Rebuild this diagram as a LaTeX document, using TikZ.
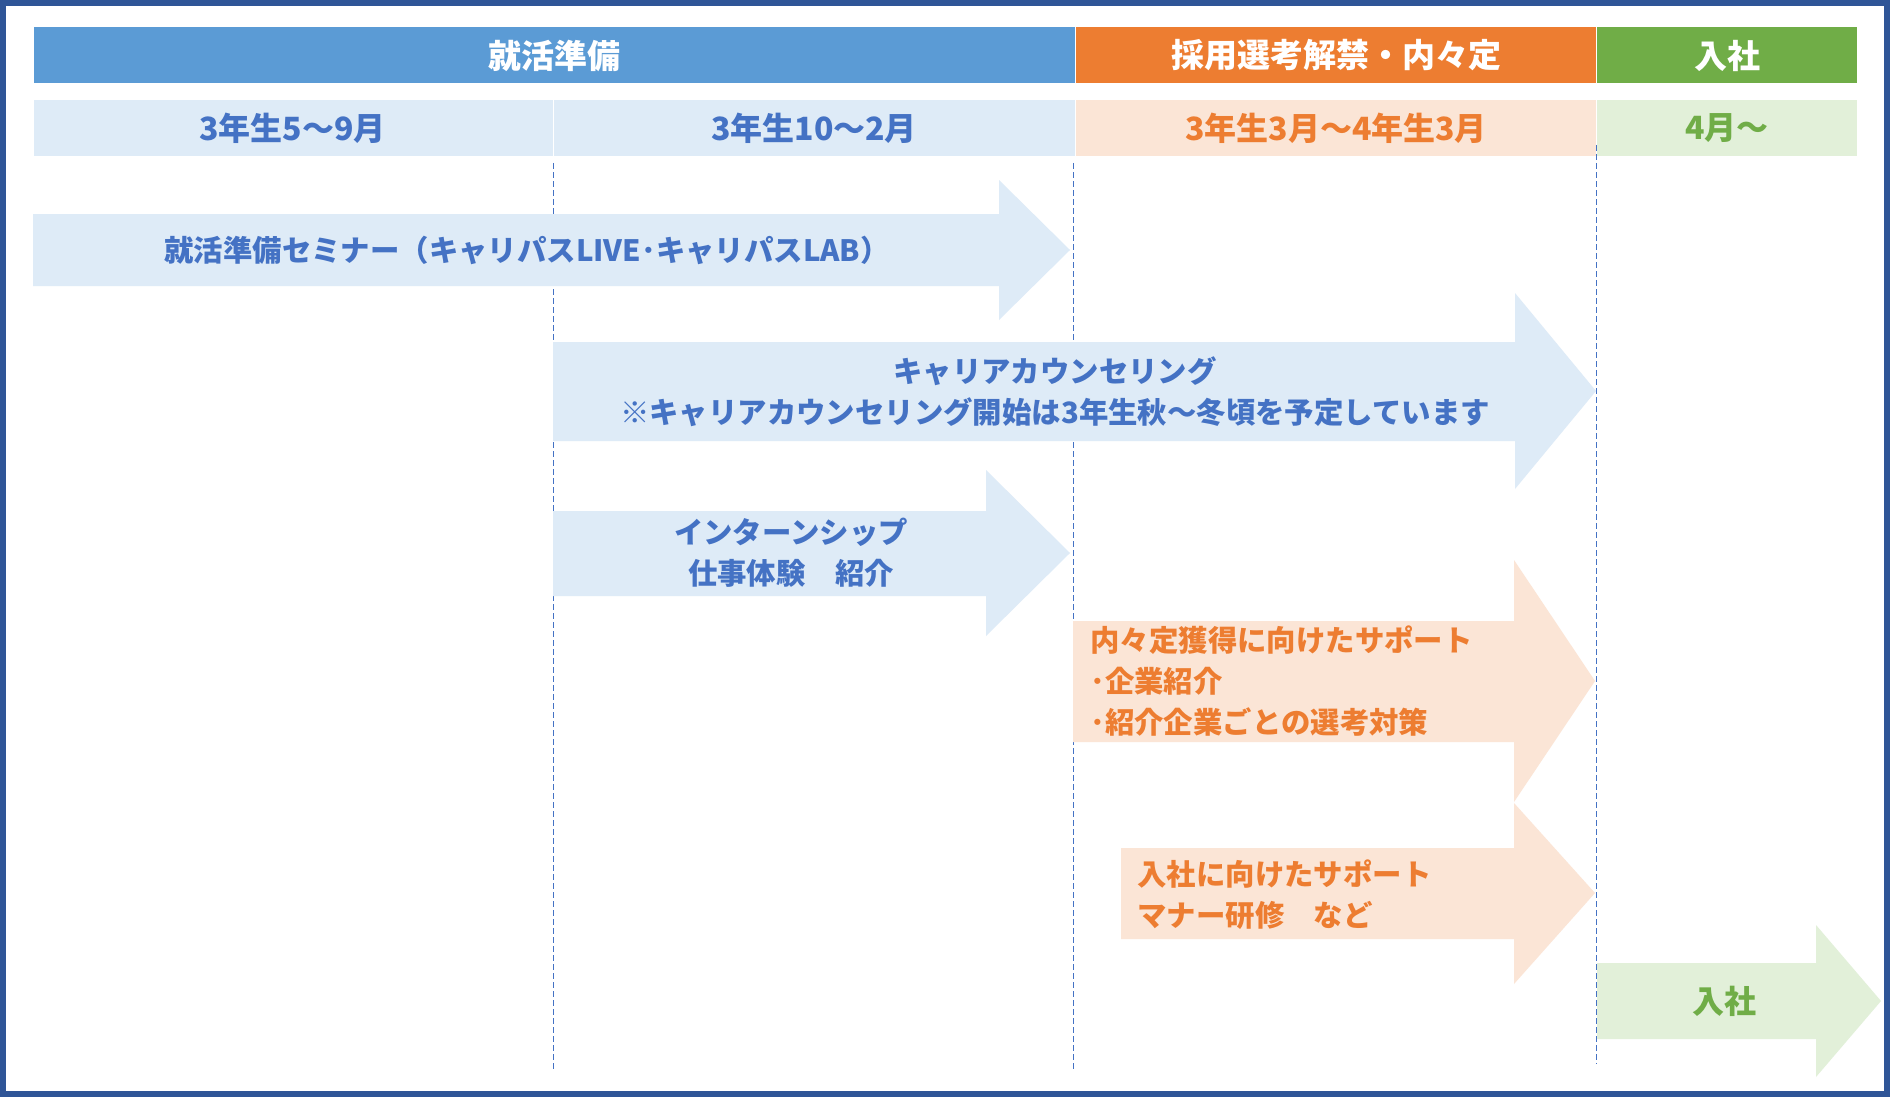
\documentclass[tikz,border=0pt]{standalone}
\usepackage{fontspec}
\setmainfont{Noto Sans CJK JP}
\usepackage{xcolor}

\definecolor{framecol}{HTML}{2F5597}
\definecolor{hblue}{HTML}{5B9BD5}
\definecolor{horange}{HTML}{ED7D31}
\definecolor{hgreen}{HTML}{70AD47}
\definecolor{lblue}{HTML}{DEEBF7}
\definecolor{lorange}{HTML}{FBE5D6}
\definecolor{lgreen}{HTML}{E2F0D9}
\definecolor{tblue}{HTML}{4472C4}

\tikzset{
  headtxt/.style={text=white, inner sep=0pt, font=\bfseries\fontsize{16.5}{20}\selectfont},
  subtxt/.style={inner sep=0pt, font=\bfseries\fontsize{16}{20}\selectfont},
  bartxt/.style={inner sep=0pt, font=\bfseries\fontsize{14.7}{20.5}\selectfont},
  vline/.style={draw=tblue, dash pattern=on 3pt off 1.5pt, line width=0.4pt},
  cell/.style={draw=white, line width=0.5pt}
}

\begin{document}
\begin{tikzpicture}[x=0.5pt,y=-0.5pt]
        \useasboundingbox (0,0) rectangle (1890,1097);
        \fill[white] (0,0) rectangle (1890,1097);

        \fill[cell, fill=hblue] (33,27) rectangle (1075,84);
        \fill[cell, fill=horange] (1075,27) rectangle (1596,84);
        \fill[cell, fill=hgreen] (1596,27) rectangle (1857,84);
        \node[headtxt] (hprep) at (554,55.5) {就活準備};
        \node[headtxt] (hsel) at (1336,55.5) {採用選考解禁・内々定};
        \node[headtxt] (hjoin) at (1727,55.5) {入社};

        \fill[cell, fill=lblue] (33,100) rectangle (553,157);
        \fill[cell, fill=lblue] (553,100) rectangle (1075,157);
        \fill[cell, fill=lorange] (1075,100) rectangle (1596,157);
        \fill[cell, fill=lgreen] (1596,100) rectangle (1857,157);
        \node[subtxt, text=tblue] (sa) at (292.5,128.5) {3年生5〜9月};
        \node[subtxt, text=tblue] (sb) at (814,128.5) {3年生10〜2月};
        \node[subtxt, text=horange] (sc) at (1336,128.5) {3年生3月〜4年生3月};
        \node[subtxt, text=hgreen] (sd) at (1727,128.5) {4月〜};

        \draw[vline] (553,163) -- (553,1070);
        \draw[vline] (1073,163) -- (1073,1070);
        \draw[vline] (1596,145) -- (1596,1064);

        \fill[lblue] (33,214) -- (999,214) -- (999,180) -- (1070,250) -- (999,320) -- (999,286) -- (33,286) -- cycle;
        \fill[lblue] (553,342) -- (1515,342) -- (1515,293) -- (1596,391) -- (1515,489) -- (1515,441) -- (553,441) -- cycle;
        \fill[lblue] (553,511) -- (986,511) -- (986,470) -- (1070,553) -- (986,636) -- (986,596) -- (553,596) -- cycle;
        \fill[lorange] (1073,621) -- (1514,621) -- (1514,560) -- (1595,681) -- (1514,802) -- (1514,742) -- (1073,742) -- cycle;
        \fill[lorange] (1121,848) -- (1514,848) -- (1514,803) -- (1595,893) -- (1514,984) -- (1514,939) -- (1121,939) -- cycle;
        \fill[lgreen] (1597,963) -- (1816,963) -- (1816,925) -- (1881,1001) -- (1816,1077) -- (1816,1039) -- (1597,1039) -- cycle;

        \node[bartxt, text=tblue] (seminar) at (527,250) {就活準備セミナー（キャリパスLIVE･キャリパスLAB）};
        \node[bartxt, text=tblue, align=center] (counsel) at (1055,391.5) {キャリアカウンセリング\\※キャリアカウンセリング開始は3年生秋〜冬頃を予定しています};
        \node[bartxt, text=tblue, align=center] (intern) at (791,553) {インターンシップ\\仕事体験　紹介};
        \node[bartxt, text=horange, align=left, anchor=west] (offer) at (1090,681) {内々定獲得に向けたサポート\\･企業紹介\\･紹介企業ごとの選考対策};
        \node[bartxt, text=horange, align=left, anchor=west] (entry) at (1137,894.5) {入社に向けたサポート\\マナー研修　など};
        \node[subtxt, text=hgreen] (join) at (1724,1001) {入社};

        \draw[framecol, line width=3pt] (3,3) rectangle (1887,1094);
      \end{tikzpicture}
\end{document}
